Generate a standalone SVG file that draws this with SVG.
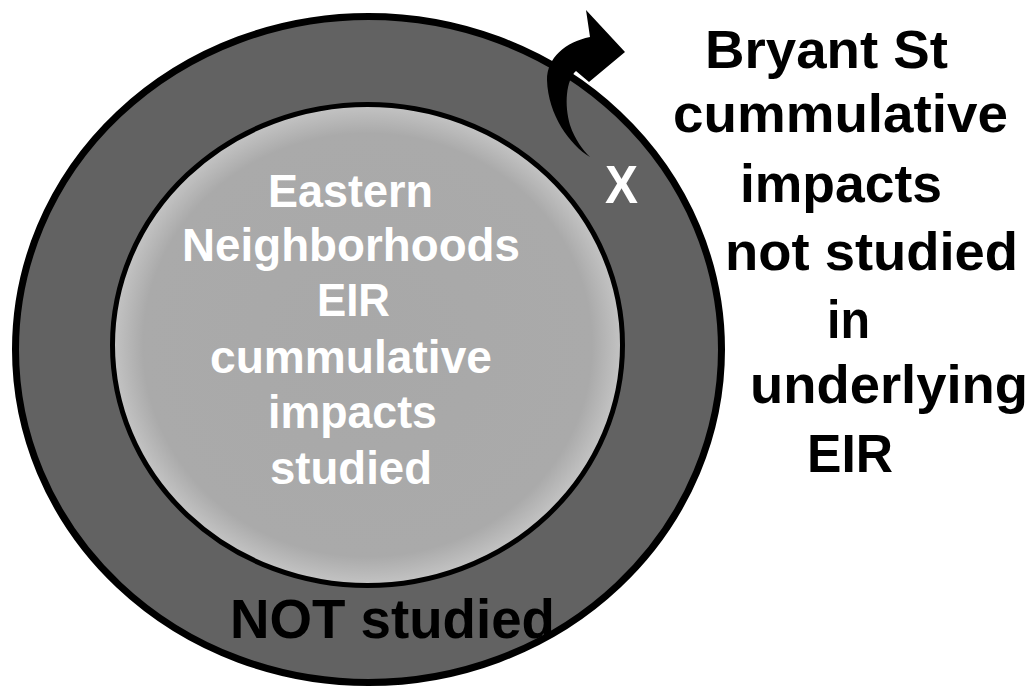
<svg xmlns="http://www.w3.org/2000/svg" width="1034" height="688" viewBox="0 0 1034 688">
<defs>
<radialGradient id="innerFill" cx="0.5" cy="0.5" r="0.5">
<stop offset="0" stop-color="#a8a8a8"/>
<stop offset="0.88" stop-color="#aaaaaa"/>
<stop offset="1" stop-color="#c4c4c4"/>
</radialGradient>
</defs>
<style>
.t{font-family:"Liberation Sans",Arial,sans-serif;font-weight:bold}
.w{fill:#ffffff}
.k{fill:#000000}
</style>
<rect width="1034" height="688" fill="#ffffff"/>
<g id="outer-ring">
<ellipse cx="368.5" cy="349.5" rx="353" ry="333" fill="#626262" stroke="#000" stroke-width="7"/>
</g>
<g id="inner-circle">
<ellipse cx="367.5" cy="345" rx="255" ry="240.5" fill="url(#innerFill)" stroke="#000" stroke-width="5"/>
<g class="t w" font-size="46">
<text x="268" y="207" textLength="165" lengthAdjust="spacingAndGlyphs">Eastern</text>
<text x="182" y="261" textLength="338" lengthAdjust="spacingAndGlyphs">Neighborhoods</text>
<text x="317" y="316" textLength="73" lengthAdjust="spacingAndGlyphs">EIR</text>
<text x="210" y="373" textLength="282" lengthAdjust="spacingAndGlyphs">cummulative</text>
<text x="268" y="428" textLength="169" lengthAdjust="spacingAndGlyphs">impacts</text>
<text x="270" y="484" textLength="162" lengthAdjust="spacingAndGlyphs">studied</text>
</g>
</g>
<g id="not-studied-label">
<text class="t k" font-size="55" x="230" y="638" textLength="325" lengthAdjust="spacingAndGlyphs">NOT studied</text>
</g>
<g id="x-mark">
<text class="t w" font-size="54" x="605" y="203" textLength="33" lengthAdjust="spacingAndGlyphs">X</text>
</g>
<g id="connectors">
<path d="M590,157 C570,145 548,115 547,80 C547,58 565,42 590,37 L586,10 L625,52 L589,82 L576,71 C566,80 564,105 570,125 C575,140 583,150 590,157 Z" fill="#000"/>
</g>
<g id="bryant-label" class="t k" font-size="53">
<text x="705" y="68" textLength="243" lengthAdjust="spacingAndGlyphs">Bryant St</text>
<text x="673" y="132" textLength="335" lengthAdjust="spacingAndGlyphs">cummulative</text>
<text x="740" y="202" textLength="202" lengthAdjust="spacingAndGlyphs">impacts</text>
<text x="725" y="270" textLength="293" lengthAdjust="spacingAndGlyphs">not studied</text>
<text x="827" y="338" textLength="43" lengthAdjust="spacingAndGlyphs">in</text>
<text x="750" y="403" textLength="278" lengthAdjust="spacingAndGlyphs">underlying</text>
<text x="807" y="472" textLength="86" lengthAdjust="spacingAndGlyphs">EIR</text>
</g>
</svg>
